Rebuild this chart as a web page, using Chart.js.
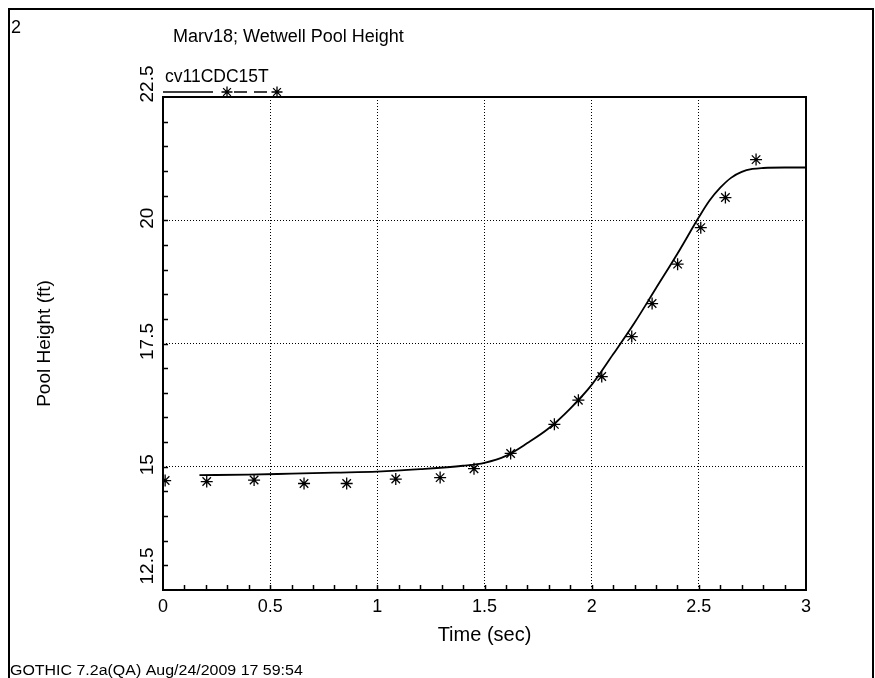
<!DOCTYPE html>
<html>
<head>
<meta charset="utf-8">
<title>Marv18; Wetwell Pool Height</title>
<script src="https://cdn.jsdelivr.net/npm/chart.js@4.4.1/dist/chart.umd.min.js"></script>
<style>
  html, body { margin: 0; padding: 0; background: #fff; }
  #wrap { position: relative; width: 875px; height: 678px; }
</style>
</head>
<body>
<div id="wrap"><canvas id="pool" width="875" height="678"></canvas></div>
<script>
// GOTHIC calculation, cv11CDC15T (solid line)
const curveTime = [0.17, 0.4, 0.6, 0.8, 1.0, 1.2, 1.4, 1.5, 1.6, 1.7, 1.8, 1.9, 2.0, 2.1, 2.2, 2.3, 2.4, 2.5, 2.55, 2.6, 2.65, 2.7, 2.75, 2.8, 2.9, 3.0];
const curveHeight = [14.83, 14.84, 14.86, 14.88, 14.9, 14.95, 15.02, 15.08, 15.22, 15.48, 15.78, 16.18, 16.66, 17.28, 17.92, 18.62, 19.32, 20.06, 20.4, 20.66, 20.86, 20.98, 21.04, 21.06, 21.07, 21.07];

// test data (asterisks)
const testTime = [0.01, 0.204, 0.425, 0.658, 0.857, 1.086, 1.293, 1.451, 1.622, 1.826, 1.938, 2.047, 2.187, 2.282, 2.401, 2.509, 2.624, 2.767];
const testHeight = [14.72, 14.70, 14.73, 14.66, 14.66, 14.75, 14.78, 14.96, 15.27, 15.86, 16.35, 16.83, 17.64, 18.31, 19.11, 19.85, 20.46, 21.23];

const titleText = "Marv18; Wetwell Pool Height";
const seriesLabel = "cv11CDC15T";
const xTitle = "Time (sec)";
const yTitle = "Pool Height (ft)";
const pageNo = "2";
const footer = "GOTHIC 7.2a(QA) Aug/24/2009 17 59:54";

const font = "'Liberation Sans', Arial, Helvetica, sans-serif";

let toPoints = function (xs, ys) {
  return xs.map(function (x, i) { return { x: x, y: ys[i] }; });
};

let drawStar = function (ctx, x, y, r) {
  ctx.beginPath();
  for (let k = 0; k < 4; k++) {
    let a = k * Math.PI / 4;
    ctx.moveTo(x - r * Math.cos(a), y - r * Math.sin(a));
    ctx.lineTo(x + r * Math.cos(a), y + r * Math.sin(a));
  }
  ctx.stroke();
};

// frame, inner ticks, rotated y labels, titles and legend
let gothicDecor = {
  id: "gothicDecor",
  beforeDraw: function (chart) {
    let ctx = chart.ctx;
    ctx.save();
    ctx.fillStyle = "#fff";
    ctx.fillRect(0, 0, chart.width, chart.height);
    ctx.strokeStyle = "#000";
    ctx.lineWidth = 2;
    ctx.strokeRect(9, 9, 864, 700);
    ctx.restore();
  },
  afterDraw: function (chart) {
    let ctx = chart.ctx;
    let area = chart.chartArea;
    let xs = chart.scales.x;
    let ys = chart.scales.y;
    ctx.save();
    ctx.strokeStyle = "#000";
    ctx.fillStyle = "#000";

    // plot frame
    ctx.lineWidth = 2;
    ctx.strokeRect(area.left, area.top, area.right - area.left, area.bottom - area.top);

    // inward minor ticks
    ctx.lineWidth = 1.5;
    ctx.beginPath();
    for (let i = 1; i < 30; i++) {
      let px = Math.round(xs.getPixelForValue(i / 10)) + 0.5;
      ctx.moveTo(px, area.bottom);
      ctx.lineTo(px, area.bottom - 5);
    }
    for (let v = 13; v < 22.5; v += 0.5) {
      let py = Math.round(ys.getPixelForValue(v)) + 0.5;
      ctx.moveTo(area.left, py);
      ctx.lineTo(area.left + 5, py);
    }
    ctx.stroke();

    // y tick labels, rotated; the end labels are pulled up like in GOTHIC
    ctx.font = "19px " + font;
    ctx.textAlign = "center";
    ctx.textBaseline = "middle";
    let last = ys.ticks.length - 1;
    ys.ticks.forEach(function (t, i) {
      let py = ys.getPixelForValue(t.value);
      if (i === 0) py -= 24;
      else if (i === last) py -= 13;
      else py -= 2;
      ctx.save();
      ctx.translate(148, py);
      ctx.rotate(-Math.PI / 2);
      ctx.fillText(String(t.value), 0, 0);
      ctx.restore();
    });

    // axis titles
    ctx.font = "20px " + font;
    ctx.fillText(xTitle, (area.left + area.right) / 2, 635);
    ctx.font = "19px " + font;
    ctx.save();
    ctx.translate(45, (area.top + area.bottom) / 2);
    ctx.rotate(-Math.PI / 2);
    ctx.fillText(yTitle, 0, 0);
    ctx.restore();

    // title and page number
    ctx.font = "18px " + font;
    ctx.textAlign = "left";
    ctx.fillText(titleText, 173, 37);
    ctx.fillText(pageNo, 11, 28);

    // legend
    ctx.font = "17.5px " + font;
    ctx.fillText(seriesLabel, 165, 77);
    ctx.lineWidth = 1.5;
    ctx.beginPath();
    ctx.moveTo(163, 92);
    ctx.lineTo(213, 92);
    ctx.moveTo(234, 92);
    ctx.lineTo(247, 92);
    ctx.moveTo(254, 92);
    ctx.lineTo(267, 92);
    ctx.stroke();
    ctx.lineWidth = 1.3;
    drawStar(ctx, 227, 92, 5.5);
    drawStar(ctx, 277, 92, 5.5);

    // footer, a little stretched like the original plot font
    ctx.font = "14px " + font;
    ctx.save();
    ctx.translate(10, 671);
    ctx.scale(1.14, 1);
    ctx.fillText(footer, 0, 0);
    ctx.restore();
    ctx.restore();
  },
};

let chartDraw = function () {
  let ctx = document.getElementById("pool").getContext("2d");

  new Chart(ctx, {
    type: "line",
    data: {
      datasets: [
        {
          label: seriesLabel,
          data: toPoints(curveTime, curveHeight),
          borderColor: "#000",
          borderWidth: 1.8,
          pointRadius: 0,
          fill: false,
          cubicInterpolationMode: "monotone",
        },
        {
          label: "data",
          data: toPoints(testTime, testHeight),
          showLine: false,
          pointStyle: "star",
          pointRadius: 6,
          borderColor: "#000",
          borderWidth: 1.3,
          backgroundColor: "#000",
        },
      ],
    },
    options: {
      responsive: false,
      animation: false,
      layout: { padding: { top: 97, right: 69, left: 0, bottom: 0 } },
      plugins: {
        legend: { display: false },
        title: { display: false },
        tooltip: { enabled: false },
      },
      scales: {
        x: {
          type: "linear",
          min: 0,
          max: 3,
          afterFit: function (s) { s.height = 88; },
          ticks: {
            stepSize: 0.5,
            color: "#000",
            padding: 6,
            font: { family: font, size: 18 },
            callback: function (v) { return String(v); },
          },
          grid: {
            drawTicks: false,
            lineWidth: 1,
            color: function (c) {
              return c.tick && c.tick.value > 0 && c.tick.value < 3 ? "#000" : "rgba(0,0,0,0)";
            },
          },
          border: { display: false, dash: [1, 2] },
        },
        y: {
          min: 12.5,
          max: 22.5,
          afterFit: function (s) { s.width = 163; },
          ticks: { stepSize: 2.5, display: false },
          grid: {
            drawTicks: false,
            lineWidth: 1,
            color: function (c) {
              return c.tick && c.tick.value > 12.5 && c.tick.value < 22.5 ? "#000" : "rgba(0,0,0,0)";
            },
          },
          border: { display: false, dash: [1, 2] },
        },
      },
    },
    plugins: [gothicDecor],
  });
};

window.onload = function () {
  chartDraw();
};
</script>
</body>
</html>
